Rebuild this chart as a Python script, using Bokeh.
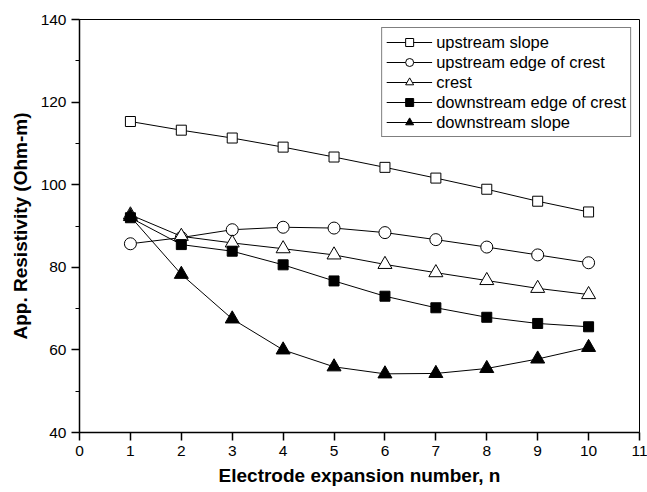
from bokeh.plotting import figure
from bokeh.models import Range1d, FixedTicker, Legend
from bokeh.embed import file_html
from bokeh.resources import INLINE

n = [1, 2, 3, 4, 5, 6, 7, 8, 9, 10]
upstream_slope = [115.3, 113.2, 111.3, 109.1, 106.7, 104.2, 101.6, 98.9, 96.0, 93.4]
upstream_edge = [85.7, 87.2, 89.1, 89.7, 89.5, 88.4, 86.7, 84.9, 83.0, 81.1]
crest = [92.7, 87.5, 85.9, 84.5, 83.0, 80.7, 78.7, 76.8, 74.9, 73.4]
downstream_edge = [92.0, 85.5, 83.9, 80.6, 76.7, 73.0, 70.2, 67.9, 66.4, 65.6]
downstream_slope = [92.3, 78.3, 67.5, 60.0, 55.9, 54.2, 54.3, 55.5, 57.8, 60.6]

x_ticks = list(range(0, 12))
y_ticks = [40, 60, 80, 100, 120, 140]
y_minor = [50, 70, 90, 110, 130]

FONT = "Liberation Sans"

p = figure(width=647, height=492, output_backend="svg", toolbar_location=None,
           x_range=Range1d(0, 11), y_range=Range1d(40, 140),
           min_border_left=79, min_border_right=8, min_border_top=19, min_border_bottom=60)
p.grid.visible = False
p.outline_line_color = "black"
p.outline_line_width = 1
p.background_fill_color = "white"
p.border_fill_color = "white"

series = [
    ("upstream slope", upstream_slope, "square", "white", 10),
    ("upstream edge of crest", upstream_edge, "circle", "white", 12),
    ("crest", crest, "triangle", "white", 14),
    ("downstream edge of crest", downstream_edge, "square", "black", 10),
    ("downstream slope", downstream_slope, "triangle", "black", 14),
]

items = []
for label, ys, marker, fill, size in series:
    r1 = p.line(n, ys, line_color="black", line_width=1)
    r2 = p.scatter(n, ys, marker=marker, size=size, fill_color=fill,
                   line_color="black", line_width=1)
    items.append((label, [r1, r2]))

legend = Legend(items=items, location="top_right")
legend.border_line_color = "black"
legend.border_line_width = 1
legend.background_fill_alpha = 1
legend.label_text_font = FONT
legend.label_text_font_size = "16.5px"
legend.label_text_color = "black"
legend.glyph_width = 46
legend.glyph_height = 20
legend.label_height = 16
legend.label_standoff = 4
legend.spacing = 0
legend.padding = 4
legend.margin = 8
p.add_layout(legend, "center")

p.xaxis.ticker = FixedTicker(ticks=x_ticks)
p.yaxis.ticker = FixedTicker(ticks=y_ticks, minor_ticks=y_minor)
p.xaxis.minor_tick_line_color = None

for ax in (p.xaxis, p.yaxis):
    ax.axis_line_color = "black"
    ax.axis_line_width = 1.5
    ax.major_tick_line_color = "black"
    ax.major_tick_line_width = 1.5
    ax.major_tick_in = 0
    ax.major_tick_out = 8
    ax.minor_tick_in = 0
    ax.minor_tick_out = 4
    ax.major_label_text_font = FONT
    ax.major_label_text_font_size = "15.5px"
    ax.major_label_text_color = "black"
    ax.axis_label_text_font = FONT
    ax.axis_label_text_font_size = "19px"
    ax.axis_label_text_font_style = "bold"
    ax.axis_label_text_color = "black"

p.xaxis.axis_label = "Electrode expansion number, n"
p.yaxis.axis_label = "App. Resistivity (Ohm-m)"
p.xaxis.major_label_standoff = 5
p.yaxis.major_label_standoff = 5
p.xaxis.axis_label_standoff = 6
p.yaxis.axis_label_standoff = 7

open("out.html", "w").write(file_html(p, INLINE))
